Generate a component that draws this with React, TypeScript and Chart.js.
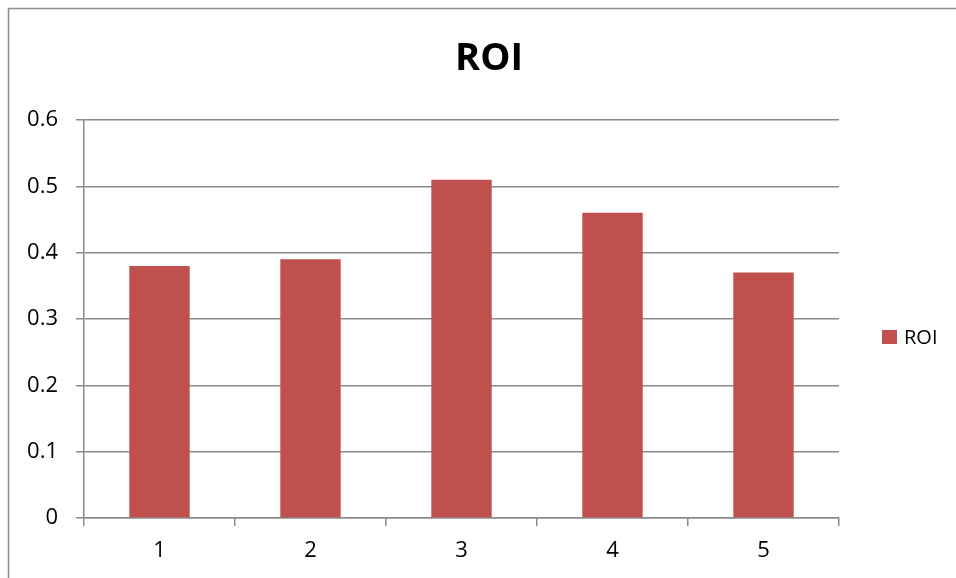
import React, { useEffect, useRef } from "react";
import { Chart, registerables } from "chart.js";

Chart.register(...registerables);

const categories = ["1", "2", "3", "4", "5"];
const roiValues = [0.38, 0.39, 0.51, 0.46, 0.37];
const seriesName = "ROI";
const chartTitle = "ROI";

const FONT = "'Open Sans', 'Liberation Sans', sans-serif";
const GRID = "#8a8a8a";
const BAR = "#C0504D";

const framePlugin = {
  id: "frame",
  beforeDraw(chart: any) {
    const ctx = chart.ctx;
    ctx.save();
    ctx.fillStyle = "#ffffff";
    ctx.fillRect(0, 0, chart.width, chart.height);
    ctx.strokeStyle = "#8c8c8c";
    ctx.lineWidth = 1.5;
    ctx.beginPath();
    ctx.moveTo(8.5, chart.height);
    ctx.lineTo(8.5, 8.5);
    ctx.lineTo(chart.width, 8.5);
    ctx.stroke();
    ctx.restore();
  },
};

const titleLegendPlugin = {
  id: "titleLegend",
  afterDraw(chart: any) {
    const ctx = chart.ctx;
    const ds = chart.data.datasets[0];
    ctx.save();
    // title
    ctx.fillStyle = "#000000";
    ctx.font = `bold 38px ${FONT}`;
    ctx.textAlign = "center";
    ctx.textBaseline = "middle";
    ctx.fillText(chartTitle, 489, 59);
    // legend
    const cy = 337;
    ctx.fillStyle = ds.backgroundColor;
    ctx.fillRect(882, cy - 7, 15, 14);
    ctx.fillStyle = "#000000";
    ctx.font = `20px ${FONT}`;
    ctx.textAlign = "left";
    ctx.fillText(ds.label, 904, cy + 1);
    ctx.restore();
  },
};

export default function App() {
  const ref = useRef<HTMLCanvasElement | null>(null);

  useEffect(() => {
    if (!ref.current) return;
    const chart = new Chart(ref.current, {
      type: "bar",
      data: {
        labels: categories,
        datasets: [
          {
            label: seriesName,
            data: roiValues,
            backgroundColor: BAR,
            borderWidth: 0,
            categoryPercentage: 1,
            barPercentage: 0.4,
          },
        ],
      },
      options: {
        animation: false,
        responsive: false,
        maintainAspectRatio: false,
        layout: { padding: { top: 120, left: 0, right: 117, bottom: 0 } },
        plugins: {
          legend: { display: false },
          tooltip: { enabled: false },
          title: { display: false },
        },
        scales: {
          x: {
            afterFit(scale: any) {
              scale.height = 60;
            },
            grid: {
              display: true,
              drawOnChartArea: false,
              drawTicks: true,
              tickLength: 8,
              offset: true,
              color: GRID,
              tickColor: GRID,
              lineWidth: 1.5,
            },
            border: { display: true, color: GRID, width: 1.5 },
            ticks: {
              color: "#000000",
              font: { family: FONT, size: 22 },
              padding: 12,
            },
          },
          y: {
            min: 0,
            max: 0.6,
            afterFit(scale: any) {
              scale.width = 84;
            },
            grid: {
              color: GRID,
              tickColor: GRID,
              lineWidth: 1.5,
              drawTicks: true,
              tickLength: 8,
            },
            border: { display: true, color: GRID, width: 1.5 },
            ticks: {
              stepSize: 0.1,
              color: "#000000",
              font: { family: FONT, size: 22 },
              padding: 18,
              callback: (v: any) => {
                const n = Math.round(Number(v) * 10) / 10;
                return n === 0 ? "0" : String(n);
              },
            },
          },
        },
      },
      plugins: [framePlugin, titleLegendPlugin],
    });
    return () => chart.destroy();
  }, []);

  return (
    <div style={{ position: "fixed", left: 0, top: 0, width: 956, height: 578 }}>
      <canvas ref={ref} width={956} height={578} style={{ display: "block" }} />
    </div>
  );
}
